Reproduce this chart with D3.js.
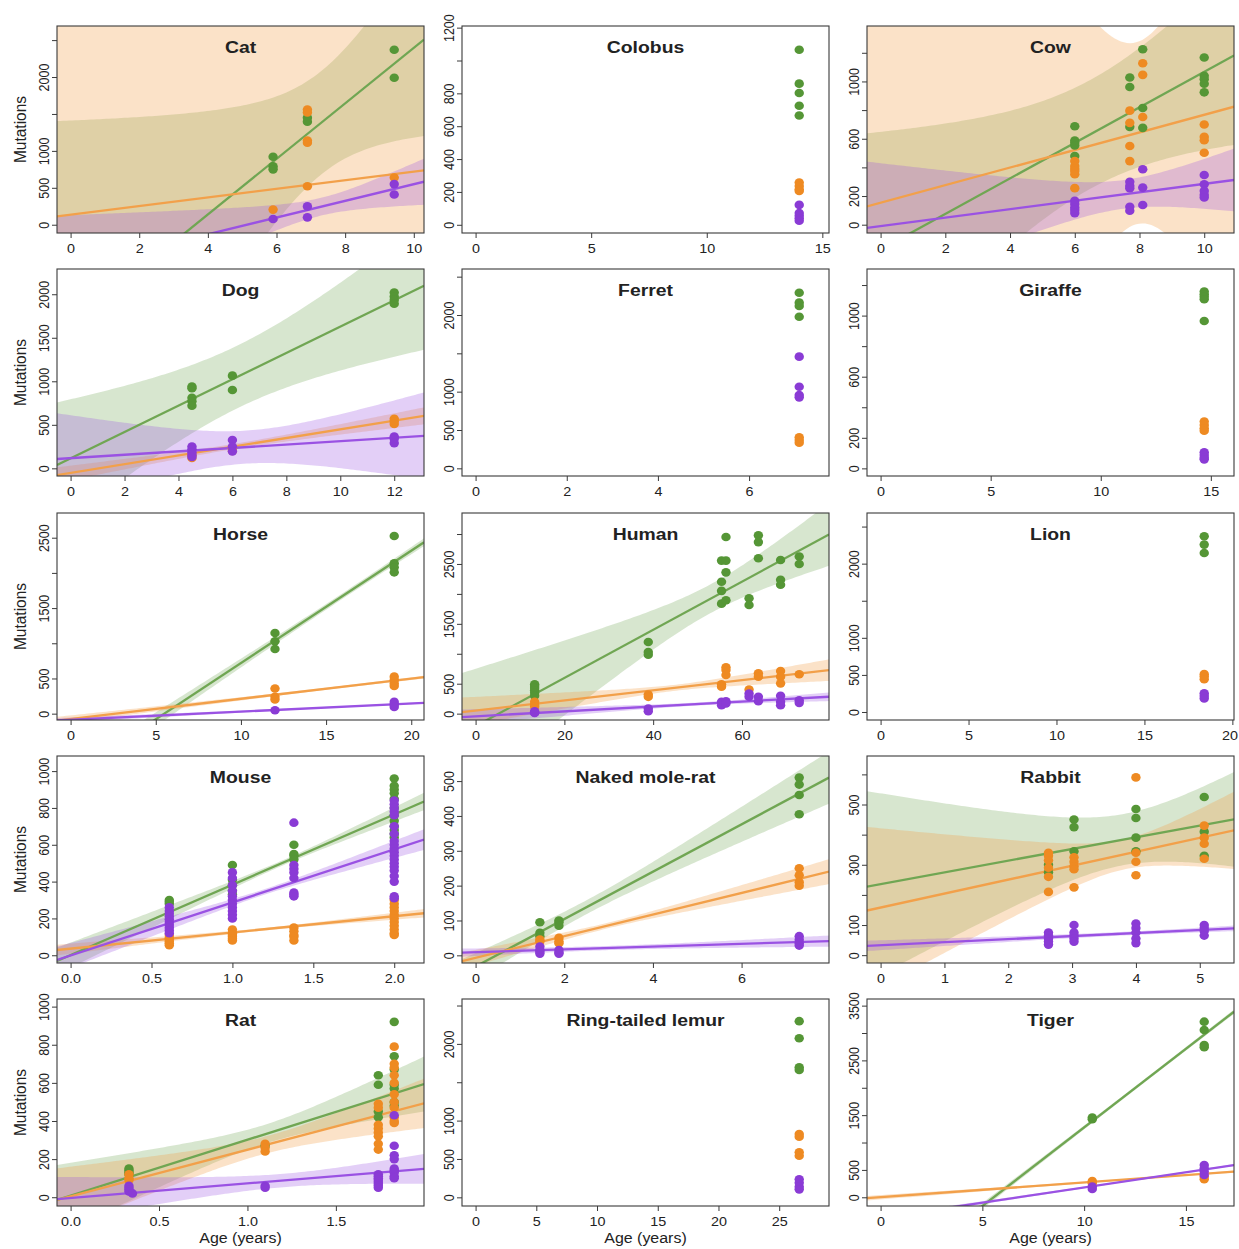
<!DOCTYPE html>
<html><head><meta charset="utf-8">
<script src="https://cdn.jsdelivr.net/npm/d3@7"></script>
<style>
body{margin:0;background:#fff}
text{font-family:"Liberation Sans",Arial,Helvetica,sans-serif;fill:#222}
</style>
</head><body>
<svg id="c" width="1239" height="1249"></svg>
<script>
// ---------------- DATA ----------------
const species = ["Cat","Colobus","Cow","Dog","Ferret","Giraffe","Horse","Human","Lion",
                 "Mouse","Naked mole-rat","Rabbit","Rat","Ring-tailed lemur","Tiger"];

// points per series: [age, [mutation counts]] ; g = green, o = orange, p = purple
const catPts = {
  g: [[5.9,[920,790,750]],[6.9,[1450,1396]],[9.43,[2370,1990]]],
  o: [[5.9,[205]],[6.9,[1559,1520,1141,1110,522]],[9.43,[640]]],
  p: [[5.9,[78]],[6.9,[248,100]],[9.43,[550,410]]]
};
const colobusPts = {
  g: [[14.0,[1065,859,802,725,665]]],
  o: [[14.0,[257,236,216,206]]],
  p: [[14.0,[121,71,55,40,25]]]
};
const cowPts = {
  g: [[6,[687,588,572,553,479]],[7.7,[1028,961,683]],[8.1,[1225,815,676]],[10,[1167,1039,1016,984,924]]],
  o: [[6,[444,410,391,375,352,255]],[7.7,[796,711,549,444]],[8.1,[1127,1046,752]],[10,[699,613,590,502]]],
  p: [[6,[167,144,120,102,81]],[7.7,[299,271,255,125,97]],[8.1,[387,259,137]],[10,[347,282,236,208,190]]]
};
const dogPts = {
  g: [[4.5,[940,920,810,770,720]],[6,[1065,900]],[12,[2020,1975,1935,1890]]],
  o: [[4.5,[150,120]],[6,[230,200]],[12,[570,540,510]]],
  p: [[4.5,[250,220,185,155,130]],[6,[325,250,195]],[12,[365,340,290]]]
};
const ferretPts = {
  g: [[7.1,[2291,2161,2117,1978]]],
  o: [[7.1,[404,370,335]]],
  p: [[7.1,[1457,1065,957,926]]]
};
const giraffePts = {
  g: [[14.7,[1157,1140,1124,1107,965]]],
  o: [[14.7,[306,284,262,247]]],
  p: [[14.7,[105,87,70,59]]]
};
const horsePts = {
  g: [[12,[1147,1028,918]],[19,[2524,2137,2079,2008]]],
  o: [[12,[358,239,201]],[19,[526,478,430,392]]],
  p: [[12,[48]],[19,[167,129,96]]]
};
const humanPts = {
  g: [[13.3,[490,460,430,390,350,300]],[38.9,[1197,1028,983]],[55.4,[2556,2202,2051,1837]],
      [56.4,[2949,2556,2360,1893]],[61.6,[1927,1815]],[63.7,[2978,2865,2596]],
      [68.7,[2567,2236,2152]],[72.9,[2624,2500]]],
  o: [[13.3,[200,150,120]],[38.9,[320,281]],[55.4,[489,449]],[56.4,[775,730,646]],
      [61.6,[404]],[63.7,[674,618]],[68.7,[713,618,506]],[72.9,[657]]],
  p: [[13.3,[40,20,10]],[38.9,[84,39]],[55.4,[197,140]],[56.4,[208,169]],
      [61.6,[337,281]],[63.7,[281,208]],[68.7,[298,197,140]],[72.9,[225,180]]]
};
const lionPts = {
  g: [[18.4,[2370,2257,2144]]],
  o: [[18.4,[510,479,442]]],
  p: [[18.4,[253,217,181]]]
};
const mousePts = {
  g: [[0.61,[300,290,280]],[1.0,[490,410,380,350,330]],[1.38,[600,550,540,520]],
      [2.0,[960,920,900,880,850,800,760,730,700,680,660,640]]],
  o: [[0.61,[110,95,85,75,65,55]],[1.0,[140,120,110,100,90,80]],[1.38,[150,130,110,100,80]],
      [2.0,[300,280,260,240,220,200,180,160,140,120,110]]],
  p: [[0.61,[260,240,225,210,195,180,165,150,135,120]],[1.0,[450,420,380,350,320,300,280,260,240,220,200]],
      [1.38,[720,490,470,450,420,340,330,320]],
      [2.0,[840,820,800,780,760,700,660,620,600,580,560,540,520,500,480,460,430,400,320,310]]]
};
const moleRatPts = {
  g: [[1.45,[95,65,55]],[1.88,[100,95,85]],[7.3,[510,490,460,405]]],
  o: [[1.45,[45,40]],[1.88,[50,40,35]],[7.3,[250,230,210,200]]],
  p: [[1.45,[25,15,10,5]],[1.88,[15,8,5]],[7.3,[55,45,35,28]]]
};
const rabbitPts = {
  g: [[2.63,[300,275]],[3.03,[450,425,345]],[4.0,[485,455,390,345]],[5.07,[525,410,330]]],
  o: [[2.63,[340,330,315,290,260,210]],[3.03,[325,310,295,285,225]],[4.0,[590,340,310,265]],[5.07,[430,390,370,320]]],
  p: [[2.63,[75,65,55,45,35]],[3.03,[100,75,65,55,45]],[4.0,[105,90,75,55,40]],[5.07,[100,90,80,65]]]
};
const ratPts = {
  g: [[0.33,[150,140,130,120]],[1.1,[270]],[1.74,[640,590,450,420]],[1.83,[920,740,670,590,570,500,480]]],
  o: [[0.33,[120,100,90]],[1.1,[280,260,240]],[1.74,[490,470,380,360,340,320,280,250]],
      [1.83,[790,700,680,640,600,540,500,470,420,400,390]]],
  p: [[0.33,[60,50,40,30]],[0.35,[20]],[1.1,[60,50]],[1.74,[120,110,100,90,80,70,60,50]],
      [1.83,[430,270,220,200,150,140,130,110,100]]]
};
const lemurPts = {
  g: [[26.65,[2296,2074,1696,1661]]],
  o: [[26.65,[826,791,587,543]]],
  p: [[26.65,[235,191,139,104]]]
};
const tigerPts = {
  g: [[10.4,[1455,1424]],[15.9,[3207,3055,2782,2739]]],
  o: [[10.4,[298,256]],[15.9,[377,329]]],
  p: [[10.4,[195,152]],[15.9,[590,530,469,408]]]
};

// fitted lines: [slope, intercept, band centre age, band min half-width, band spread]
const catFit    = {g:[376,-1365,7.3,700,368], o:[58.4,135,7,2800,300], p:[113,-581,7.3,120,96]};
const cowFit    = {g:[124,-173,6.5,380,112], o:[61.4,153,7.9,635,454], p:[29.5,-10,7.5,100,57]};
const dogFit    = {g:[151.4,114,6.2,360,93], o:[50,-52,6,30,13], p:[19.5,117,6.5,190,70]};
const horseFit  = {g:[159.7,-878,16,40,8], o:[28.6,-75,16,15,3], p:[11.6,-87,16,8,2]};
const humanFit  = {g:[40.2,-208,53,240,17.5], o:[8.5,50,45,50,5], p:[4.1,-44,50,25,2.3]};
const mouseFit  = {g:[382,1,1.3,14,51], o:[88,36,1.2,7,22], p:[288,-1,1.2,15,55]};
const moleRatFit= {g:[68,-32,2.5,20,13.2], o:[31,-7,3,8,7], p:[4,9,3,6,3]};
const rabbitFit = {g:[38.8,236,3.8,85,76], o:[46.3,158,3.8,50,68], p:[10.1,33,3.8,6,4]};
const ratFit    = {g:[293,8.6,1.1,50,150], o:[244,5,1.1,45,135], p:[76.5,-4,1.2,35,87]};
const tigerFit  = {g:[287,-1594,13,30,6], o:[27,1,13,12,3], p:[55.6,-376,13,12,3]};

const panelPts  = [catPts,colobusPts,cowPts,dogPts,ferretPts,giraffePts,horsePts,humanPts,lionPts,
                   mousePts,moleRatPts,rabbitPts,ratPts,lemurPts,tigerPts];
const panelFits = [catFit,null,cowFit,dogFit,null,null,horseFit,humanFit,null,
                   mouseFit,moleRatFit,rabbitFit,ratFit,null,tigerFit];

const yDomains = [[-112,2691],[-50,1210],[-58,1387],[-88,2290],[-100,2600],[-50,1305],[-90,2851],[-106,3351],
                  [-108,2683],[-42,1082],[-22,572],[-26,661],[-46,1040],[-113,2585],[-159,3621]];
const yTicks = [
  [0,500,1000,1500,2000,2500],[0,200,400,600,800,1000,1200],[0,200,400,600,800,1000,1200],
  [0,500,1000,1500,2000],[0,500,1000,1500,2000,2500],[0,200,400,600,800,1000,1200],
  [0,500,1000,1500,2000,2500],[0,500,1000,1500,2000,2500,3000],[0,500,1000,1500,2000,2500],
  [0,200,400,600,800,1000],[0,100,200,300,400,500],[0,100,200,300,400,500,600],
  [0,200,400,600,800,1000],[0,500,1000,1500,2000,2500],[0,500,1000,1500,2000,2500,3000,3500]];
const yTickLabels = [
  ["0","500","1000","","2000",""],["0","200","400","600","800","","1200"],["0","200","","600","","1000",""],
  ["0","500","1000","1500","2000"],["0","500","1000","","2000",""],["0","200","","600","","1000",""],
  ["0","500","","1500","","2500"],["0","500","","1500","","2500",""],["0","500","1000","","2000",""],
  ["0","200","400","600","800","1000"],["0","100","200","300","400","500"],["0","100","","300","","500",""],
  ["0","200","400","600","800","1000"],["0","500","1000","","2000",""],["0","500","","1500","","2500","","3500"]];
const xTicks = [
  [0,2,4,6,8,10],[0,5,10,15],[0,2,4,6,8,10],[0,2,4,6,8,10,12],[0,2,4,6],[0,5,10,15],
  [0,5,10,15,20],[0,20,40,60],[0,5,10,15,20],[0,0.5,1,1.5,2],[0,2,4,6],[0,1,2,3,4,5],
  [0,0.5,1,1.5],[0,5,10,15,20,25],[0,5,10,15]];
const xTickLabels = [
  ["0","2","4","6","8","10"],["0","5","10","15"],["0","2","4","6","8","10"],["0","2","4","6","8","10","12"],
  ["0","2","4","6"],["0","5","10","15"],["0","5","10","15","20"],["0","20","40","60"],["0","5","10","15","20"],
  ["0.0","0.5","1.0","1.5","2.0"],["0","2","4","6"],["0","1","2","3","4","5"],["0.0","0.5","1.0","1.5"],
  ["0","5","10","15","20","25"],["0","5","10","15"]];

const seriesKeys = ["g","o","p"];
const yAxisTitle = "Mutations";
const xAxisTitle = "Age (years)";

// ---------------- STYLE / LAYOUT ----------------
const TSX = 1.14, LSX = 1.15;
const colX = [57,462,867], rowY = [26,269,513,756,999], W = 367, H = 207;
const dotCol  = {g:"#559636", o:"#ee8a22", p:"#8a3bd5"};
const lineCol = {g:"#70a653", o:"#f2a04a", p:"#9a52e3"};
const bandOp  = {g:0.28, o:0.30, p:0.28};

const svg = d3.select("#c");
const defs = svg.append("defs");

species.forEach((name,i)=>{
  const c = i%3, r = Math.floor(i/3);
  const left = colX[c], top = rowY[r];
  const pts = panelPts[i], fit = panelFits[i];
  const maxAge = d3.max(seriesKeys.flatMap(s=>pts[s].map(d=>d[0])));
  const R = 1.05*maxAge;
  const x = d3.scaleLinear().domain([-0.04*R, 1.04*R]).range([left, left+W]);
  const y = d3.scaleLinear().domain(yDomains[i]).range([top+H, top]);

  defs.append("clipPath").attr("id","clip"+i).append("rect")
    .attr("x",left).attr("y",top).attr("width",W).attr("height",H);
  const g = svg.append("g");
  const plot = g.append("g").attr("clip-path",`url(#clip${i})`);

  if(fit){
    const xd = x.domain();
    const xs = d3.range(0,121).map(j=>xd[0] + (xd[1]-xd[0])*j/120);
    seriesKeys.forEach(s=>{
      const [b,a,xc,h0,k] = fit[s];
      const hw = t=>Math.sqrt(h0*h0 + k*k*(t-xc)*(t-xc));
      const area = d3.area().x(t=>x(t)).y0(t=>y(a+b*t-hw(t))).y1(t=>y(a+b*t+hw(t)));
      plot.append("path").attr("d",area(xs)).attr("fill",lineCol[s]).attr("fill-opacity",bandOp[s]);
    });
    seriesKeys.forEach(s=>{
      const [b,a] = fit[s];
      plot.append("line")
        .attr("x1",x(xd[0])).attr("y1",y(a+b*xd[0]))
        .attr("x2",x(xd[1])).attr("y2",y(a+b*xd[1]))
        .attr("stroke",lineCol[s]).attr("stroke-width",2.3);
    });
  }
  seriesKeys.forEach(s=>{
    const flat = pts[s].flatMap(([age,vals])=>vals.map(v=>[age,v]));
    plot.selectAll(null).data(flat).enter().append("ellipse")
      .attr("cx",d=>x(d[0])).attr("cy",d=>y(d[1]))
      .attr("rx",4.7).attr("ry",4.3).attr("fill",dotCol[s]);
  });

  // box
  g.append("rect").attr("x",left).attr("y",top).attr("width",W).attr("height",H)
    .attr("fill","none").attr("stroke","#3a3a3a").attr("stroke-width",1.1);

  // x axis
  const xa = g.append("g").attr("transform",`translate(0,${top+H})`)
    .call(d3.axisBottom(x).tickValues(xTicks[i]).tickFormat((d,j)=>xTickLabels[i][j]).tickSize(5).tickSizeOuter(0));
  xa.select(".domain").remove();
  xa.selectAll("line").attr("stroke","#3a3a3a");
  xa.selectAll("text").attr("y",0).attr("dy",0).attr("fill","#2a2a2a")
    .style("font-size","12.5px")
    .attr("transform",`translate(0,19.5) scale(${LSX},1)`);
  // keep the right-most label inside the canvas
  xa.selectAll(".tick").each(function(){
    const t = d3.select(this);
    const tx = +t.attr("transform").match(/translate\(([-\d.]+)/)[1];
    const txt = t.select("text");
    const w = txt.node().getComputedTextLength()*LSX;
    if(tx + w/2 > 1238){
      txt.attr("text-anchor","end").attr("transform",`translate(${1238-tx},19.5) scale(${LSX},1)`);
    }
  });

  // y axis
  const ya = g.append("g").attr("transform",`translate(${left},0)`)
    .call(d3.axisLeft(y).tickValues(yTicks[i]).tickFormat((d,j)=>yTickLabels[i][j]).tickSize(5).tickSizeOuter(0));
  ya.select(".domain").remove();
  ya.selectAll("line").attr("stroke","#3a3a3a");
  ya.selectAll("text").attr("x",0).attr("y",0).attr("dy",0).attr("text-anchor","middle").attr("fill","#2a2a2a")
    .style("font-size","12.5px")
    .attr("transform",`translate(-8,0) scale(${LSX},1) rotate(-90)`);

  // title
  g.append("text").attr("text-anchor","middle").style("font-weight","bold").style("font-size","17px")
    .attr("fill","#111")
    .attr("transform",`translate(${left+W/2},${top+27}) scale(${TSX},1)`).text(name);

  if(c===0){
    g.append("text").attr("text-anchor","middle").style("font-size","15.5px").attr("fill","#2a2a2a")
      .attr("transform",`translate(26,${top+H/2}) scale(1.1,1) rotate(-90)`).text(yAxisTitle);
  }
  if(r===4){
    g.append("text").attr("text-anchor","middle").style("font-size","15.5px").attr("fill","#2a2a2a")
      .attr("transform",`translate(${left+W/2},1243) scale(1.03,1)`).text(xAxisTitle);
  }
});
</script>
</body></html>
